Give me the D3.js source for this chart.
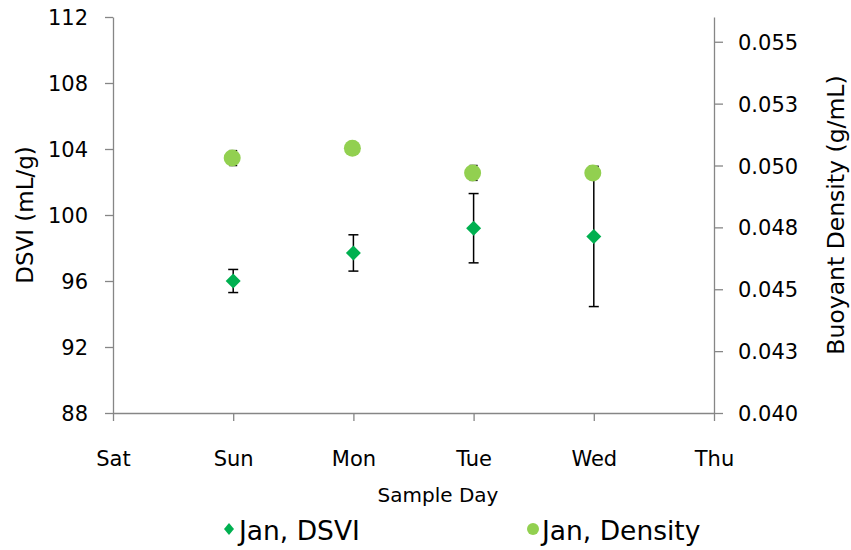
<!DOCTYPE html>
<html>
<head>
<meta charset="utf-8">
<script src="https://cdn.jsdelivr.net/npm/d3@7"></script>
<style>
  body { margin: 0; background: #fff; }
  text { font-family: "DejaVu Sans", sans-serif; fill: #000; }
</style>
</head>
<body>
<div id="chart"></div>
<script>
// axis categories
var days = ["Sat", "Sun", "Mon", "Tue", "Wed", "Thu"];
var sampleDays = ["Sun", "Mon", "Tue", "Wed"];

// series values
var dsvi = [96.0, 97.7, 99.2, 98.7];
var dsviErr = [0.7, 1.1, 2.1, 4.25];
var density = [0.0503, 0.0507, 0.0497, 0.0497];
var densityErr = [0.0003, 0.0002, 0.0003, 0.0002];

// tick labels
var leftTicks = [88, 92, 96, 100, 104, 108, 112];
var rightTicks = [0.040, 0.0425, 0.045, 0.0475, 0.050, 0.0525, 0.055];
var rightTickLabels = ["0.040", "0.043", "0.045", "0.048", "0.050", "0.053", "0.055"];

var width = 851, height = 550;
var margin = {top: 17, right: 137, bottom: 137, left: 113};

var svg = d3.select("#chart").append("svg")
    .attr("width", width)
    .attr("height", height);

var x = d3.scaleLinear().domain([0, days.length - 1]).range([margin.left, width - margin.right]);
var yL = d3.scaleLinear().domain([88, 112]).range([height - margin.bottom, margin.top]);
var yR = d3.scaleLinear().domain([0.040, 0.056]).range([height - margin.bottom, margin.top]);

var axisColor = "#868686";

// x axis
var gx = svg.append("g")
    .attr("transform", "translate(0," + (height - margin.bottom) + ")")
    .call(d3.axisBottom(x).tickValues(d3.range(days.length))
        .tickFormat(function(d) { return days[d]; })
        .tickSize(8).tickPadding(30).tickSizeOuter(0));
gx.selectAll("text").style("font-size", "21px");

// left axis
var gl = svg.append("g")
    .attr("transform", "translate(" + margin.left + ",0)")
    .call(d3.axisLeft(yL).tickValues(leftTicks).tickSize(8).tickPadding(17).tickSizeOuter(0));
gl.selectAll("text").style("font-size", "21px").attr("dy", "0.36em");

// right axis
var gr = svg.append("g")
    .attr("transform", "translate(" + (width - margin.right) + ",0)")
    .call(d3.axisRight(yR).tickValues(rightTicks)
        .tickFormat(function(d, i) { return rightTickLabels[i]; })
        .tickSize(9).tickPadding(15).tickSizeOuter(0));
gr.selectAll("text").style("font-size", "21px").attr("dy", "0.36em");

svg.selectAll(".domain, .tick line").attr("stroke", axisColor).attr("stroke-width", 1.3);

// axis titles
svg.append("text")
    .attr("transform", "translate(33," + ((yL.range()[0] + yL.range()[1]) / 2) + ") rotate(-90)")
    .attr("text-anchor", "middle")
    .style("font-size", "23px")
    .text("DSVI (mL/g)");

svg.append("text")
    .attr("transform", "translate(844," + ((yR.range()[0] + yR.range()[1]) / 2) + ") rotate(-90)")
    .attr("text-anchor", "middle")
    .style("font-size", "23.5px")
    .text("Buoyant Density (g/mL)");

svg.append("text")
    .attr("x", 438)
    .attr("y", 502)
    .attr("text-anchor", "middle")
    .style("font-size", "20px")
    .text("Sample Day");

function xi(d) { return x(days.indexOf(d)); }

// DSVI error bars
var eb = svg.append("g").attr("stroke", "#000").attr("stroke-width", 1.5);
sampleDays.forEach(function(d, i) {
    var cx = xi(d), lo = yL(dsvi[i] - dsviErr[i]), hi = yL(dsvi[i] + dsviErr[i]);
    eb.append("line").attr("x1", cx).attr("x2", cx).attr("y1", lo).attr("y2", hi);
    eb.append("line").attr("x1", cx - 5).attr("x2", cx + 5).attr("y1", lo).attr("y2", lo);
    eb.append("line").attr("x1", cx - 5).attr("x2", cx + 5).attr("y1", hi).attr("y2", hi);
});

// DSVI diamonds
svg.append("g").selectAll("path")
    .data(sampleDays)
    .join("path")
    .attr("d", "M0,-7.5L7.5,0L0,7.5L-7.5,0Z")
    .attr("transform", function(d, i) { return "translate(" + xi(d) + "," + yL(dsvi[i]) + ")"; })
    .attr("fill", "#00B050");

// density error bars
var eb2 = svg.append("g").attr("stroke", "#000").attr("stroke-width", 1.5);
sampleDays.forEach(function(d, i) {
    var cx = xi(d), lo = yR(density[i] - densityErr[i]), hi = yR(density[i] + densityErr[i]);
    eb2.append("line").attr("x1", cx).attr("x2", cx).attr("y1", lo).attr("y2", hi);
    eb2.append("line").attr("x1", cx - 4).attr("x2", cx + 4).attr("y1", lo).attr("y2", lo);
    eb2.append("line").attr("x1", cx - 4).attr("x2", cx + 4).attr("y1", hi).attr("y2", hi);
});

// density circles
svg.append("g").selectAll("circle")
    .data(sampleDays)
    .join("circle")
    .attr("cx", function(d) { return xi(d) - 1; })
    .attr("cy", function(d, i) { return yR(density[i]); })
    .attr("r", 8.5)
    .attr("fill", "#92D050");

// legend
var legend = svg.append("g");
legend.append("path")
    .attr("d", "M0,-6L5,0L0,6L-5,0Z")
    .attr("transform", "translate(229,529)")
    .attr("fill", "#00B050");
legend.append("text")
    .attr("x", 239).attr("y", 540)
    .style("font-size", "26.5px")
    .text("Jan, DSVI");
legend.append("circle")
    .attr("cx", 533).attr("cy", 529).attr("r", 6)
    .attr("fill", "#92D050");
legend.append("text")
    .attr("x", 542).attr("y", 540)
    .style("font-size", "26.5px")
    .text("Jan, Density");
</script>
</body>
</html>
